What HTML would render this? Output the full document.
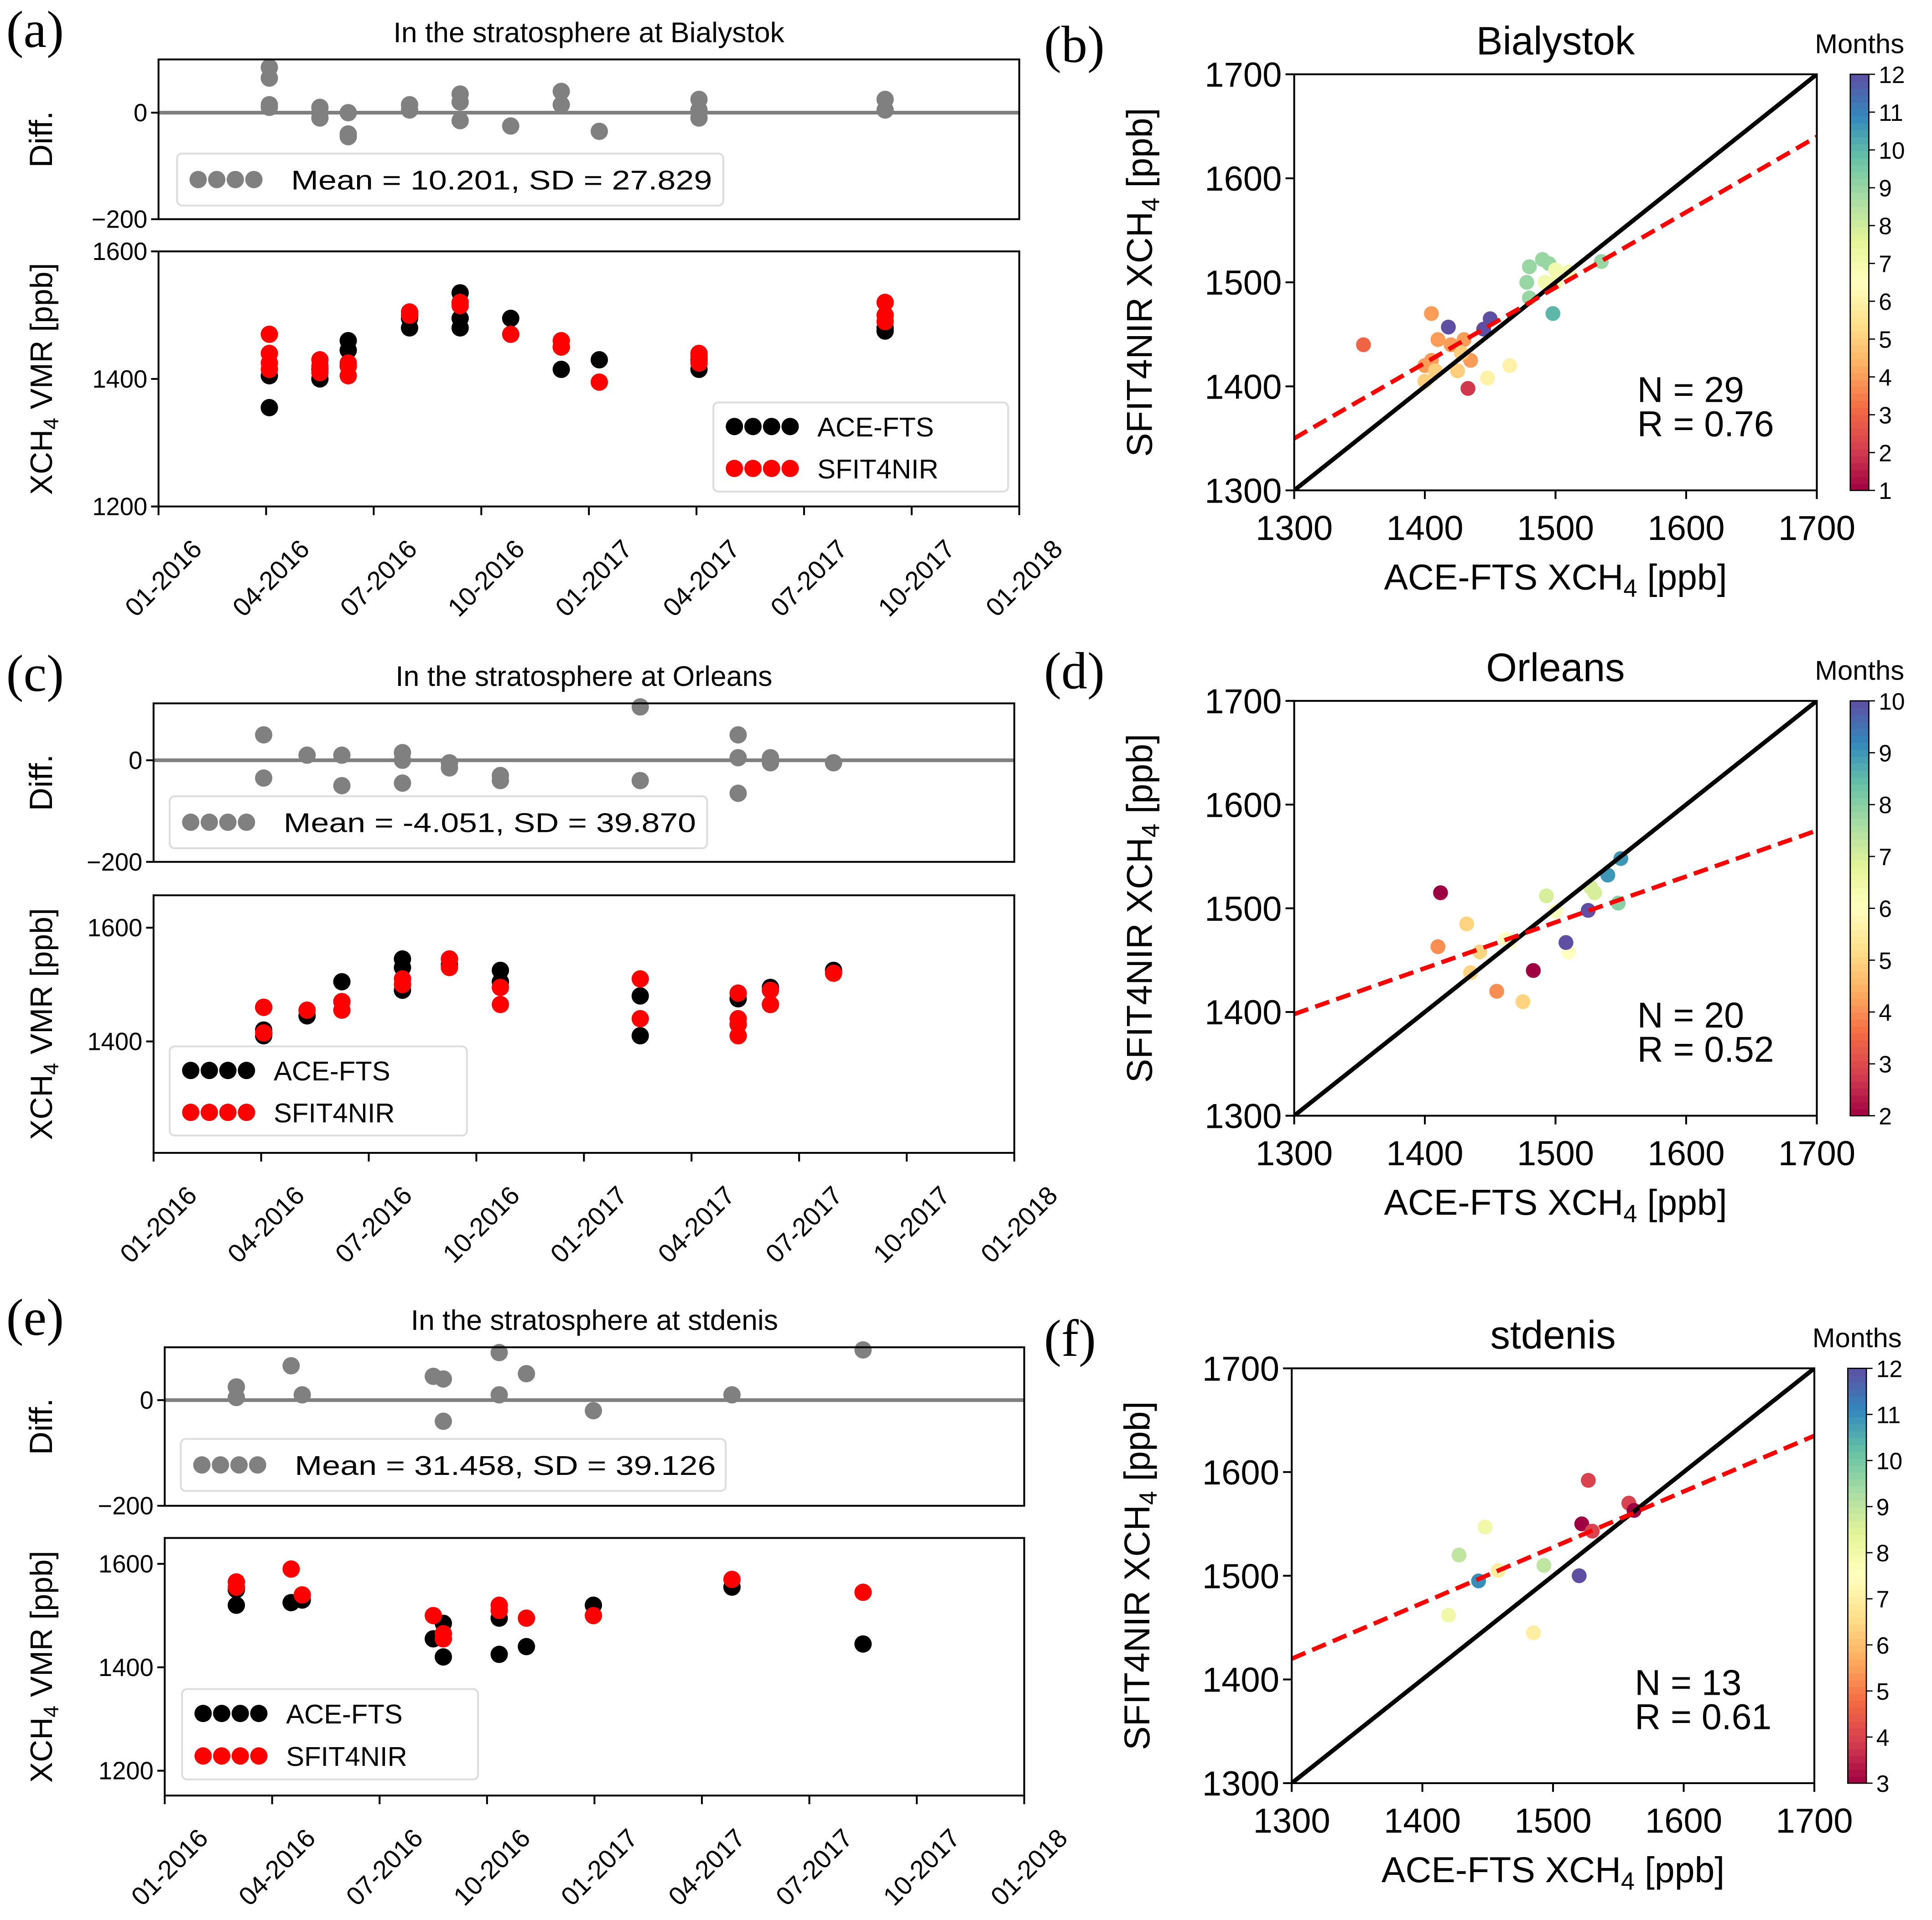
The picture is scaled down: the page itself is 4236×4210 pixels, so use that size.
<!DOCTYPE html>
<html><head><meta charset="utf-8">
<style>html,body{margin:0;padding:0;background:#fff}svg{display:block}</style>
</head><body>
<svg id="fig" xmlns="http://www.w3.org/2000/svg" width="4236" height="4210" viewBox="0 0 1560 1550.5" preserveAspectRatio="none" font-family="Liberation Sans, sans-serif"></svg>
<script>
// x tick labels
const dateTicks = ["01-2016","04-2016","07-2016","10-2016","01-2017","04-2017","07-2017","10-2017","01-2018"];
// ---- Panel a (Bialystok) : months since Jan 2016
const aDiffX = [3.09,3.09,3.09,3.09,4.5,4.5,4.5,5.29,5.29,5.29,7.0,7.0,8.41,8.41,8.41,9.82,11.23,11.23,12.29,15.07,15.07,15.07,20.26,20.26];
const aDiffY = [85,65,15,10,10,0,-10,0,-40,-45,15,5,35,20,-15,-25,40,15,-35,25,5,-10,25,5];
const aAceX = [3.09,3.09,4.5,4.5,5.29,5.29,5.29,7.0,7.0,8.41,8.41,8.41,9.82,11.23,11.23,12.29,15.07,15.07,20.26,20.26];
const aAceY = [1355,1405,1400,1415,1460,1445,1420,1480,1495,1535,1495,1480,1495,1450,1415,1430,1415,1430,1475,1480];
const aSfX = [3.09,3.09,3.09,3.09,4.5,4.5,4.5,5.29,5.29,5.29,7.0,7.0,8.41,8.41,9.82,11.23,11.23,12.29,15.07,15.07,15.07,20.26,20.26,20.26];
const aSfY = [1470,1440,1425,1415,1430,1420,1410,1425,1420,1405,1505,1500,1520,1515,1470,1460,1450,1395,1440,1435,1425,1520,1500,1490];
// ---- Panel c (Orleans)
const cDiffX = [3.07,3.07,4.28,5.25,5.25,6.94,6.94,6.94,8.25,8.25,9.67,9.67,13.57,13.57,16.3,16.3,16.3,17.2,17.2,18.96];
const cDiffY = [50,-35,10,10,-50,15,0,-45,-5,-15,-40,-30,105,-40,50,5,-65,5,-5,-5];
const cAceX = [3.07,3.07,3.07,4.28,5.25,5.25,6.94,6.94,6.94,8.25,8.25,9.67,9.67,13.57,13.57,16.3,16.3,17.2,17.2,18.96];
const cAceY = [1410,1460,1420,1445,1505,1470,1545,1530,1490,1545,1535,1525,1505,1480,1410,1475,1430,1495,1465,1525];
const cSfX = [3.07,3.07,4.28,5.25,5.25,6.94,6.94,8.25,8.25,9.67,9.67,13.57,13.57,16.3,16.3,16.3,16.3,17.2,17.2,18.96];
const cSfY = [1460,1415,1455,1470,1455,1510,1500,1545,1530,1495,1465,1510,1440,1485,1440,1430,1410,1490,1465,1520];
// ---- Panel e (stdenis)
const eDiffX = [2.0,2.0,3.53,3.84,7.5,7.78,7.78,9.34,9.34,10.1,11.97,15.84,19.5];
const eDiffY = [25,5,65,10,45,40,-40,90,10,50,-20,10,95];
const eAceX = [2.0,2.0,3.53,3.84,7.5,7.78,7.78,9.34,9.34,10.1,11.97,15.84,19.5];
const eAceY = [1520,1550,1525,1530,1455,1485,1420,1495,1425,1440,1520,1555,1445];
const eSfX = [2.0,2.0,3.53,3.84,7.5,7.78,7.78,9.34,9.34,10.1,11.97,15.84,19.5];
const eSfY = [1565,1555,1590,1540,1500,1465,1455,1520,1510,1495,1500,1570,1545];
// ---- Scatter b
const bAce = [1353,1405,1420,1410,1430,1435,1405,1400,1408,1425,1428,1400,1448,1465,1433,1418,1450,1445,1480,1490,1495,1478,1480,1498,1535,1492,1500,1500,1510];
const bSf  = [1440,1470,1440,1445,1445,1425,1425,1420,1415,1415,1432,1405,1408,1420,1398,1457,1465,1455,1515,1522,1518,1500,1485,1470,1520,1500,1500,1512,1510];
const bMon = [3,4,4,4,4,4,4,4,5,5,5,5,6,6,2,12,12,12,9,9,9,9,9,10,9,7,7,7,7];
const bFit = [1350,1640];
// ---- Scatter d
const dAce = [1412,1483,1410,1432,1435,1442,1455,1475,1462,1465,1493,1500,1510,1508,1525,1527,1530,1540,1548,1550];
const dSf  = [1515,1440,1463,1485,1438,1458,1420,1410,1470,1468,1512,1497,1458,1467,1498,1520,1515,1532,1505,1548];
const dMon = [2,2,4,5,5,5,4,5,6,6,7,6,6,10,10,7,7,9,8,9];
const dFit = [1398,1575];
// ---- Scatter f
const fAce = [1522,1527,1530,1558,1562,1448,1428,1443,1420,1458,1493,1485,1520];
const fSf  = [1550,1592,1543,1570,1563,1547,1520,1495,1462,1505,1510,1445,1500];
const fMon = [3,4,4,4,3,8,9,11,8,7,9,7,12];
const fFit = [1420,1635];

const NS="http://www.w3.org/2000/svg", svg=document.getElementById('fig');
function el(tag, attrs, parent, txt){const e=document.createElementNS(NS,tag);for(const k in attrs)e.setAttribute(k,attrs[k]);if(txt!==undefined)e.textContent=txt;(parent||svg).appendChild(e);return e;}
const spectral=["#9e0142","#d53e4f","#f46d43","#fdae61","#fee08b","#ffffbf","#e6f598","#abdda4","#66c2a5","#3288bd","#5e4fa2"];
function hx(c){return [1,3,5].map(i=>parseInt(c.substr(i,2),16));}
function cmap(t){t=Math.max(0,Math.min(1,t));const p=t*10,i=Math.min(9,Math.floor(p)),f=p-i;const a=hx(spectral[i]),b=hx(spectral[i+1]);return "rgb("+a.map((v,k)=>Math.round(v+(b[k]-v)*f)).join(",")+")";}

function timePanel(o){
  const g=el('g',{});  
  const X=m=>o.x0+(o.x1-o.x0)*m/24;
  const Yd=v=>o.dy1-(v-o.dlim[0])/(o.dlim[1]-o.dlim[0])*(o.dy1-o.dy0);
  const Ym=v=>o.my1-(v-o.mlim[0])/(o.mlim[1]-o.mlim[0])*(o.my1-o.my0);
  let t=el('text',{x:(o.x0+o.x1)/2,y:o.dy0-14,'font-size':23,'text-anchor':'middle'},g,o.title);
  
  t=el('text',{x:5,y:o.dy0-10,'font-size':42,style:'font-family:"Liberation Serif",serif'},g,o.label);
  
  let l=el('line',{x1:o.x0,x2:o.x1,y1:Yd(0),y2:Yd(0),stroke:'#808080','stroke-width':3},g);
  
  o.diffX.forEach((m,i)=>{const c=el('circle',{cx:X(m),cy:Yd(o.diffY[i]),r:7,fill:'#808080'},g);
    });
  o.aceX.forEach((m,i)=>{const c=el('circle',{cx:X(m),cy:Ym(o.aceY[i]),r:7,fill:'#000'},g);
    });
  o.sfX.forEach((m,i)=>{const c=el('circle',{cx:X(m),cy:Ym(o.sfY[i]),r:7,fill:'#ff0000'},g);
    });
  let r=el('rect',{x:o.x0,y:o.dy0,width:o.x1-o.x0,height:o.dy1-o.dy0,fill:'none',stroke:'#000','stroke-width':1.5},g);
  
  r=el('rect',{x:o.x0,y:o.my0,width:o.x1-o.x0,height:o.my1-o.my0,fill:'none',stroke:'#000','stroke-width':1.5},g);
  
  o.dticks.forEach(v=>{el('line',{x1:o.x0-6,x2:o.x0,y1:Yd(v),y2:Yd(v),stroke:'#000','stroke-width':1.5},g);
    const tt=el('text',{x:o.x0-9,y:Yd(v)+7,'font-size':20,'text-anchor':'end'},g,v===-200?'\u2212200':String(v));
    });
  o.mticks.forEach(v=>{el('line',{x1:o.x0-6,x2:o.x0,y1:Ym(v),y2:Ym(v),stroke:'#000','stroke-width':1.5},g);
    const tt=el('text',{x:o.x0-9,y:Ym(v)+7,'font-size':20,'text-anchor':'end'},g,String(v));
    });
  dateTicks.forEach((s,i)=>{const x=X(i*3);el('line',{x1:x,x2:x,y1:o.my1,y2:o.my1+7,stroke:'#000','stroke-width':1.5},g);
    const cx=x+4,cy=o.my1+58;
    const tt=el('text',{x:cx,y:cy+7,'font-size':21,'text-anchor':'middle',transform:`rotate(-45 ${cx} ${cy})`},g,s);
    });
  t=el('text',{x:0,y:0,'font-size':26,'text-anchor':'middle',transform:`translate(42 ${(o.dy0+o.dy1)/2}) rotate(-90)`},g,'Diff.');
  
  t=el('text',{x:0,y:0,'font-size':25,'text-anchor':'middle',transform:`translate(42 ${(o.my0+o.my1)/2}) rotate(-90)`},g);
  
  t.innerHTML='XCH<tspan font-size="17" dy="5">4</tspan><tspan dy="-5"> VMR [ppb]</tspan>';
  const L=o.dleg;
  r=el('rect',{x:L[0],y:L[1],width:L[2],height:L[3],rx:4,fill:'#fff',stroke:'#ddd','stroke-width':1.5},g);
  
  for(let k=0;k<4;k++)el('circle',{cx:L[0]+17+k*15,cy:L[1]+L[3]/2,r:7,fill:'#808080'},g);
  t=el('text',{x:L[0]+92,y:L[1]+L[3]/2+8,'font-size':22,textLength:L[4],lengthAdjust:'spacingAndGlyphs'},g,o.stat);
  
  const M=o.mleg;
  r=el('rect',{x:M[0],y:M[1],width:M[2],height:M[3],rx:4,fill:'#fff',stroke:'#ddd','stroke-width':1.5},g);
  
  [['#000','ACE-FTS'],['#ff0000','SFIT4NIR']].forEach((s,j)=>{const cy=M[1]+M[3]*(j===0?0.27:0.74);
    for(let k=0;k<4;k++)el('circle',{cx:M[0]+17+k*15,cy:cy,r:7,fill:s[0]},g);
    const tt=el('text',{x:M[0]+84,y:cy+8,'font-size':22},g,s[1]);
    });
}

function scatterPanel(o){
  const g=el('g',{});  
  const X=v=>o.x0+(v-1300)/400*(o.x1-o.x0), Y=v=>o.y1-(v-1300)/400*(o.y1-o.y0);
  let t=el('text',{x:(o.x0+o.x1)/2,y:o.y0-16,'font-size':32,'text-anchor':'middle'},g,o.title);
  
  t=el('text',{x:o.lx,y:o.y0-10,'font-size':42,style:'font-family:"Liberation Serif",serif'},g,o.label);
  
  const cpath=el('clipPath',{id:'c'+o.name},g);
  el('rect',{x:o.x0,y:o.y0,width:o.x1-o.x0,height:o.y1-o.y0},cpath);
  const lo=o.cb[0],hi=o.cb[1];
  o.ace.forEach((v,i)=>{const c=el('circle',{cx:X(v),cy:Y(o.sf[i]),r:6,fill:cmap((o.mon[i]-lo)/(hi-lo))},g);
    });
  let l=el('line',{x1:X(1300),y1:Y(1300),x2:X(1700),y2:Y(1700),stroke:'#000','stroke-width':3.5,'clip-path':`url(#c${o.name})`},g);
  
  l=el('line',{x1:X(1300),y1:Y(o.fit[0]),x2:X(1700),y2:Y(o.fit[1]),stroke:'#ff0000','stroke-width':3.5,'stroke-dasharray':'12 6'},g);
  
  const r=el('rect',{x:o.x0,y:o.y0,width:o.x1-o.x0,height:o.y1-o.y0,fill:'none',stroke:'#000','stroke-width':1.5},g);
  
  [1300,1400,1500,1600,1700].forEach(v=>{
    el('line',{x1:X(v),x2:X(v),y1:o.y1,y2:o.y1+7,stroke:'#000','stroke-width':1.5},g);
    let tt=el('text',{x:X(v),y:o.y1+40,'font-size':28,'text-anchor':'middle'},g,String(v));
    
    el('line',{x1:o.x0-7,x2:o.x0,y1:Y(v),y2:Y(v),stroke:'#000','stroke-width':1.5},g);
    tt=el('text',{x:o.x0-10,y:Y(v)+10,'font-size':28,'text-anchor':'end'},g,String(v));
    });
  t=el('text',{x:(o.x0+o.x1)/2,y:o.y1+80,'font-size':29,'text-anchor':'middle'},g);
  
  t.innerHTML='ACE-FTS XCH<tspan font-size="20" dy="6">4</tspan><tspan dy="-6"> [ppb]</tspan>';
  t=el('text',{x:0,y:0,'font-size':29,'text-anchor':'middle',transform:`translate(${o.x0-115} ${(o.y0+o.y1)/2}) rotate(-90)`},g);
  
  t.innerHTML='SFIT4NIR  XCH<tspan font-size="20" dy="6">4</tspan><tspan dy="-6"> [ppb]</tspan>';
  t=el('text',{x:o.x1-145,y:Y(1385),'font-size':29},g,'N = '+o.ace.length);
  
  t=el('text',{x:o.x1-145,y:Y(1352),'font-size':29},g,'R = '+o.R);
  
  const cx=o.x1+27,cw=15,n=60;
  for(let k=0;k<n;k++){el('rect',{x:cx,y:o.y1-(k+1)*(o.y1-o.y0)/n,width:cw,height:(o.y1-o.y0)/n+0.5,fill:cmap((k+0.5)/n)},g);}
  const cr=el('rect',{x:cx,y:o.y0,width:cw,height:o.y1-o.y0,fill:'none',stroke:'#000','stroke-width':1},g);
  
  for(let v=o.cb[0];v<=o.cb[1];v++){const y=o.y1-(v-o.cb[0])/(o.cb[1]-o.cb[0])*(o.y1-o.y0);
    el('line',{x1:cx+cw,x2:cx+cw+5,y1:y,y2:y,stroke:'#000'},g);
    const tt=el('text',{x:cx+cw+8,y:y+7,'font-size':19},g,String(v));
    }
  t=el('text',{x:cx+cw/2,y:o.y0-17,'font-size':22,'text-anchor':'middle'},g,'Months');
  
}

timePanel({name:'panel-a',label:'(a)',title:'In the stratosphere at Bialystok',x0:128,x1:823,dy0:48,dy1:177,dlim:[-200,100],my0:203,my1:409,mlim:[1200,1600],
  diffX:aDiffX,diffY:aDiffY,aceX:aAceX,aceY:aAceY,sfX:aSfX,sfY:aSfY,dticks:[-200,0],mticks:[1200,1400,1600],
  dleg:[143,124,441,42,340],stat:'Mean = 10.201, SD = 27.829',mleg:[576,325,238,72]});
timePanel({name:'panel-c',label:'(c)',title:'In the stratosphere at Orleans',x0:124,x1:819,dy0:568,dy1:696,dlim:[-200,112],my0:723,my1:931,mlim:[1204,1657],
  diffX:cDiffX,diffY:cDiffY,aceX:cAceX,aceY:cAceY,sfX:cSfX,sfY:cSfY,dticks:[-200,0],mticks:[1400,1600],
  dleg:[137,643,434,42,333],stat:'Mean = -4.051, SD = 39.870',mleg:[137,845,240,72]});
timePanel({name:'panel-e',label:'(e)',title:'In the stratosphere at stdenis',x0:133,x1:827,dy0:1088,dy1:1216,dlim:[-200,100],my0:1242,my1:1450,mlim:[1152,1650],
  diffX:eDiffX,diffY:eDiffY,aceX:eAceX,aceY:eAceY,sfX:eSfX,sfY:eSfY,dticks:[-200,0],mticks:[1200,1400,1600],
  dleg:[146,1162,440,42,340],stat:'Mean = 31.458,  SD = 39.126',mleg:[147,1364,239,73]});
scatterPanel({name:'panel-b',label:'(b)',lx:843,title:'Bialystok',x0:1045,x1:1467,y0:60,y1:396,ace:bAce,sf:bSf,mon:bMon,fit:bFit,R:'0.76',cb:[1,12]});
scatterPanel({name:'panel-d',label:'(d)',lx:843,title:'Orleans',x0:1045,x1:1467,y0:566,y1:901,ace:dAce,sf:dSf,mon:dMon,fit:dFit,R:'0.52',cb:[2,10]});
scatterPanel({name:'panel-f',label:'(f)',lx:843,title:'stdenis',x0:1043,x1:1465,y0:1105,y1:1440,ace:fAce,sf:fSf,mon:fMon,fit:fFit,R:'0.61',cb:[3,12]});
</script>
</body></html>
